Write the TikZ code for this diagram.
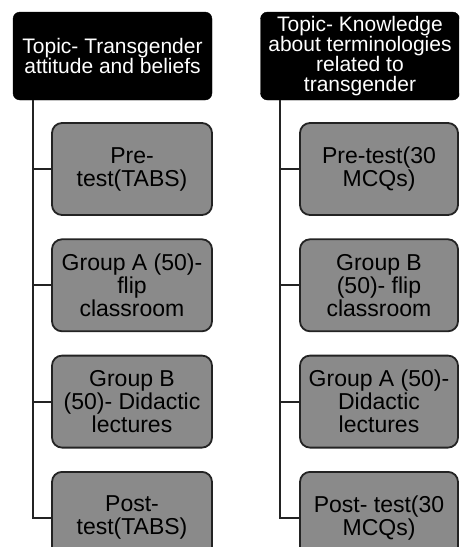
\documentclass[tikz,border=0pt]{standalone}
\usepackage{fontspec}
\setmainfont{Liberation Sans}
\usetikzlibrary{positioning}
\definecolor{cBox}{RGB}{138,138,138}
\definecolor{cEdge}{RGB}{35,35,35}
\tikzset{
	topic/.style={rectangle, rounded corners=7pt, minimum width=199pt, minimum height=88pt, align=center, inner sep=2pt, draw=black, fill=black, text=white, font=\fontsize{21}{20}\selectfont},
	stage/.style={rectangle, rounded corners=10pt, minimum width=160pt, minimum height=92pt, align=center, inner sep=2pt, draw=cEdge, line width=1.8pt, fill=cBox, font=\fontsize{23}{23}\selectfont},
	link/.style ={draw=cEdge, line width=1.8pt},
}

\begin{document}
\begin{tikzpicture}[x=1pt, y=-1pt, node distance=22.5pt]
	\useasboundingbox (0,0) rectangle (459,547);
	\clip (0,0) rectangle (459,547);
	% left column
	\node[topic] (lt) at (112.5,56) {Topic- Transgender\\attitude and beliefs};
	\node[stage] (l1) at (132,169) {Pre-\\test(TABS)};
	\node[stage, below=of l1] (l2) {Group A (50)-\\flip\\classroom};
	\node[stage, below=of l2] (l3) {Group B\\(50)- Didactic\\lectures};
	\node[stage, below=of l3] (l4) {Post-\\test(TABS)};
	\coordinate (lroot) at ([xshift=20pt]lt.south west);
	\foreach \i in {1,...,4} \draw[link] (lroot) |- (l\i.west);
	% right column
	\node[topic] (rt) at (360,56) {Topic- Knowledge\\about terminologies\\related to\\transgender};
	\node[stage, minimum width=158pt] (r1) at (379,169) {Pre-test(30\\MCQs)};
	\node[stage, minimum width=158pt, below=of r1] (r2) {Group B\\(50)- flip\\classroom};
	\node[stage, minimum width=158pt, below=of r2] (r3) {Group A (50)-\\Didactic\\lectures};
	\node[stage, minimum width=158pt, below=of r3] (r4) {Post- test(30\\MCQs)};
	\coordinate (rroot) at ([xshift=20pt]rt.south west);
	\foreach \i in {1,...,4} \draw[link] (rroot) |- (r\i.west);
\end{tikzpicture}
\end{document}
